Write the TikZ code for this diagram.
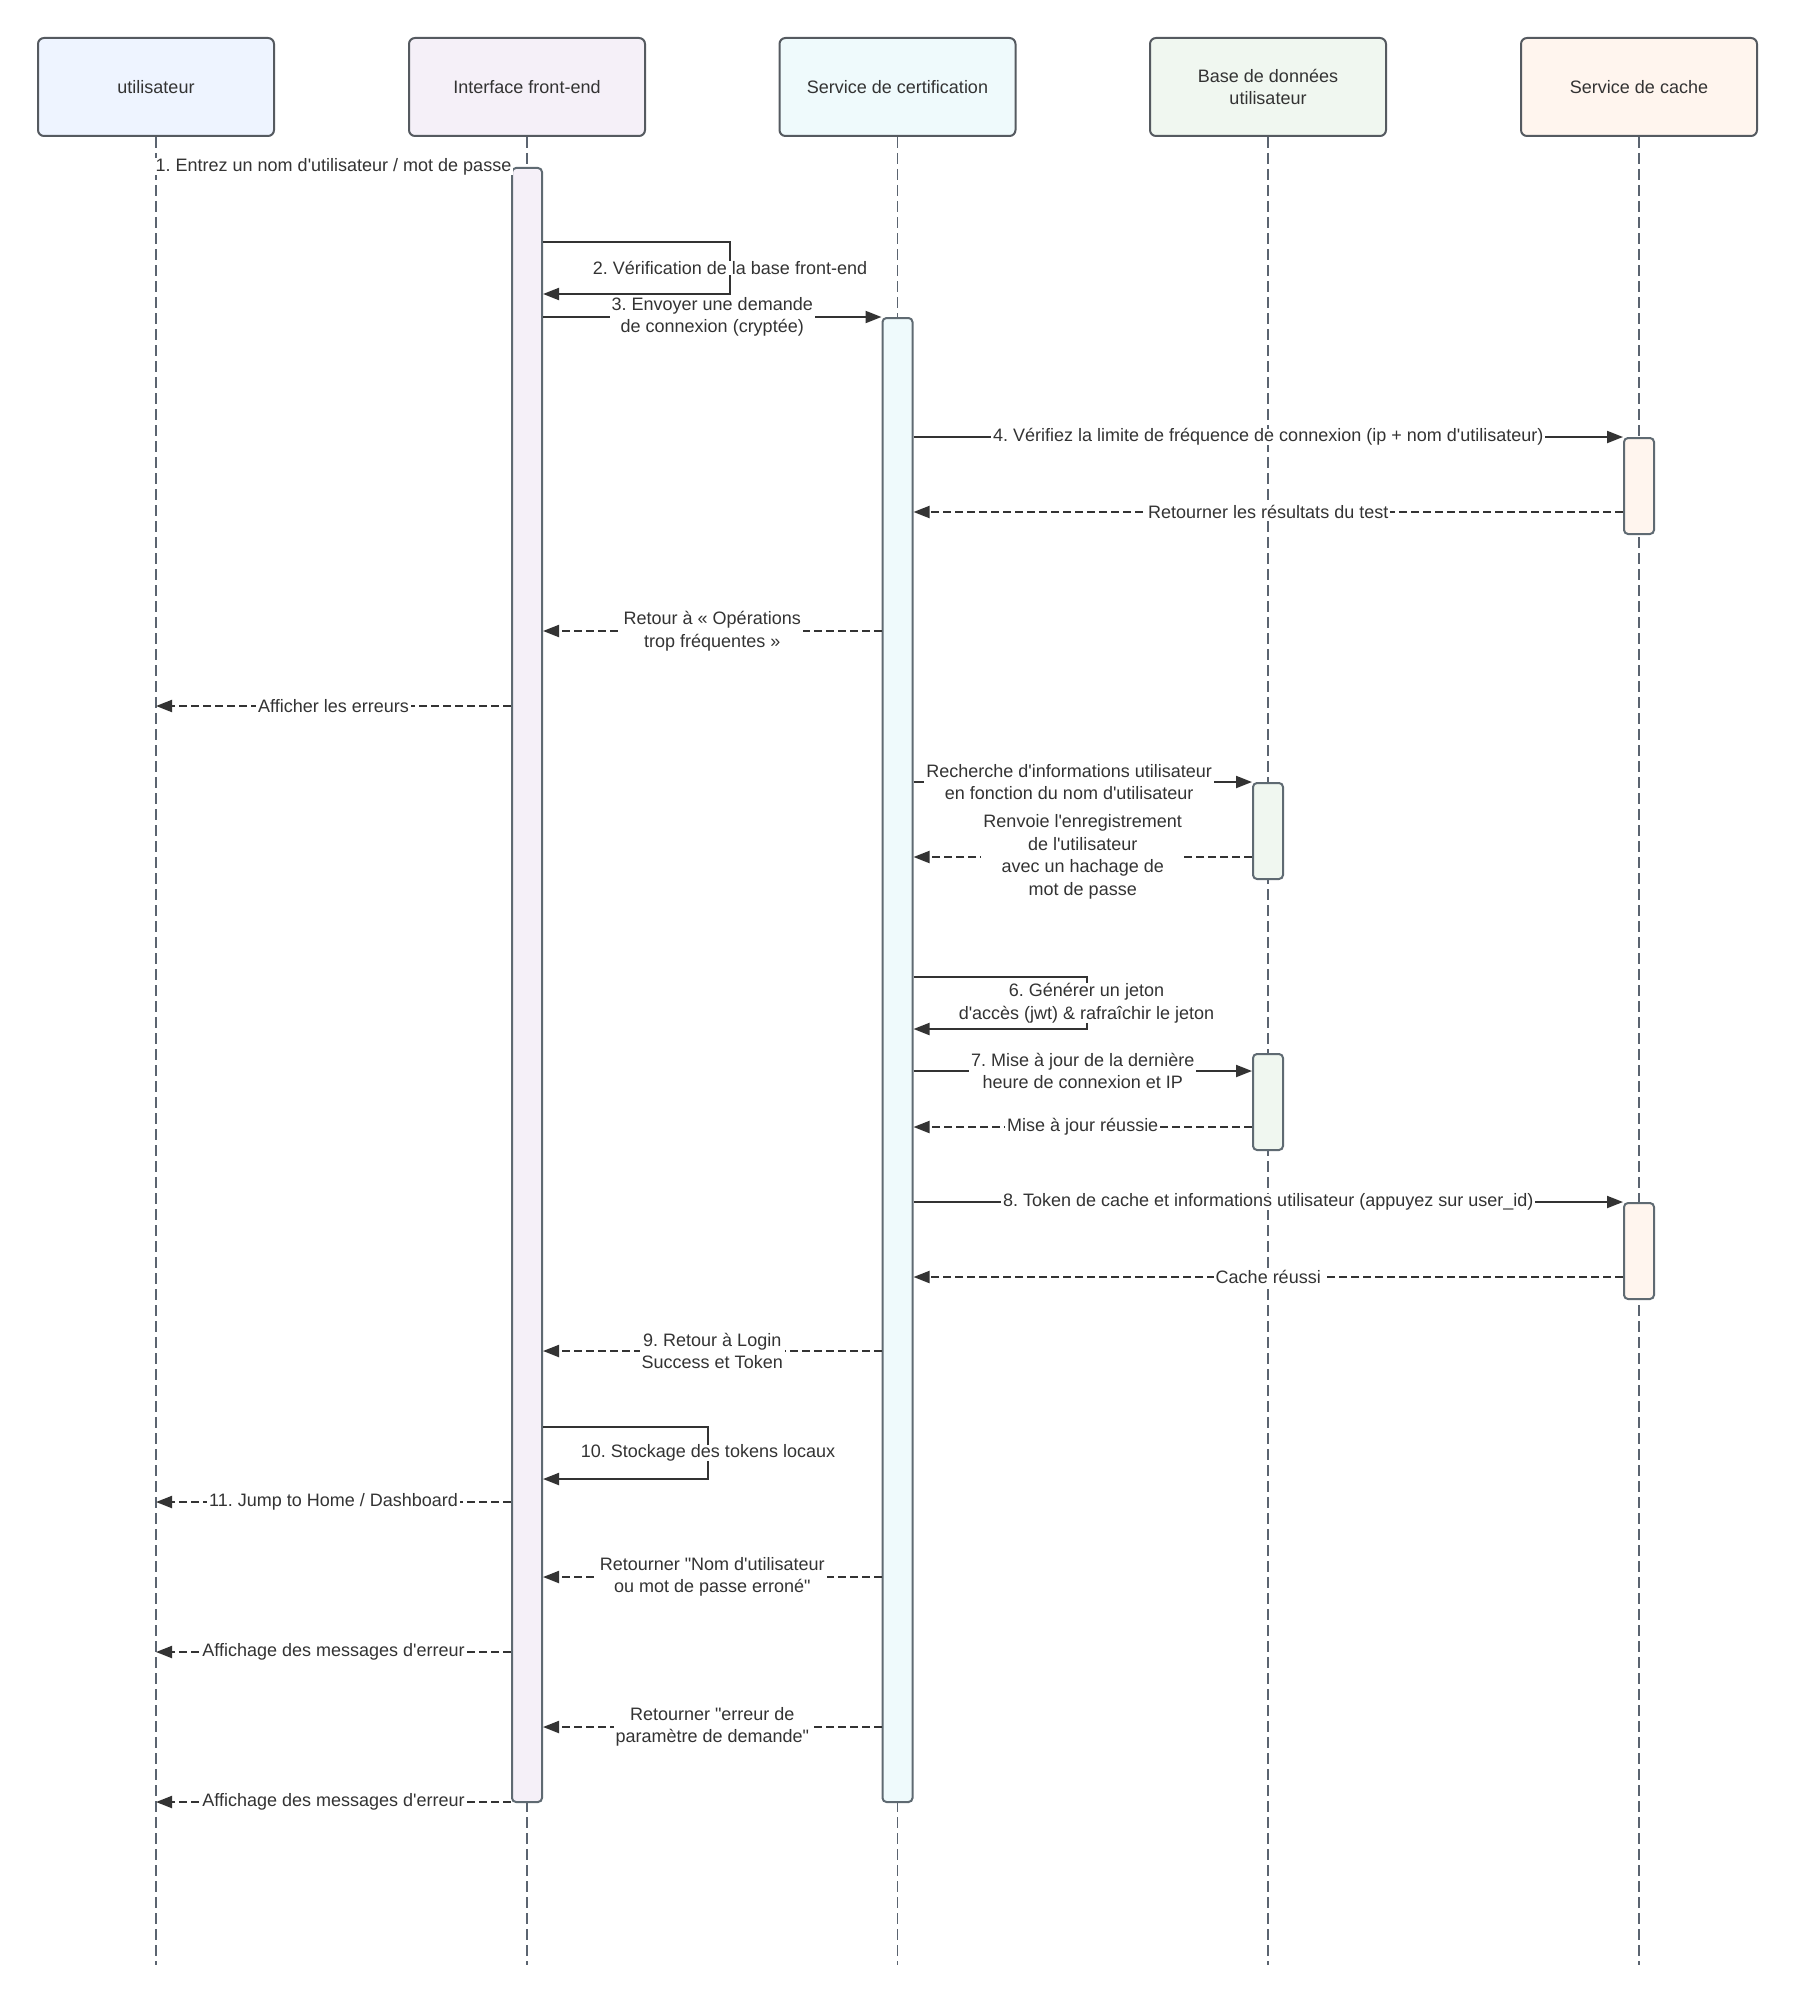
\documentclass[tikz,border=0pt]{standalone}
\usepackage{fontspec}
\setmainfont{Liberation Sans}[Ligatures=TeXOff]
\usetikzlibrary{arrows.meta}

\definecolor{txt}{HTML}{333333}
\definecolor{boxline}{HTML}{555A60}
\definecolor{barline}{HTML}{5F6A72}
\definecolor{lifeline}{HTML}{5B6470}
\definecolor{userfill}{HTML}{EEF4FF}
\definecolor{frontfill}{HTML}{F5F0F8}
\definecolor{authfill}{HTML}{EFFAFC}
\definecolor{dbfill}{HTML}{F0F7F0}
\definecolor{cachefill}{HTML}{FFF5EE}

\begin{document}
\frenchspacing
\begin{tikzpicture}[x=1pt, y=-1pt,
    actor/.style={draw=boxline, line width=2pt, rounded corners=6pt, minimum width=236pt, minimum height=98pt,
        text=txt, align=center, font=\fontsize{18}{21.7}\selectfont},
    life/.style={draw=lifeline, line width=1.3pt, dash pattern=on 11pt off 5pt},
    bar/.style={draw=barline, line width=2pt, rounded corners=4pt, minimum width=30pt, inner sep=0pt, anchor=north},
    msg/.style={draw=txt, line width=2pt, -{Triangle[length=16pt,width=12pt]}},
    ret/.style={msg, dash pattern=on 8pt off 4pt},
    lbl/.style={fill=white, text=txt, align=center, inner xsep=2pt, inner ysep=0pt, font=\fontsize{18}{22.5}\selectfont}]
    \useasboundingbox (0,0) rectangle (1795,2004);

    % acteurs
    \node[actor, fill=userfill] (user) at (156,87) {utilisateur};
    \node[actor, fill=frontfill] (front) at (527,87) {Interface front-end};
    \node[actor, fill=authfill] (auth) at (897.5,87) {Service de certification};
    \node[actor, fill=dbfill] (db) at (1268,87) {Base de données\\utilisateur};
    \node[actor, fill=cachefill] (cache) at (1639,87) {Service de cache};

    % lignes de vie
    \foreach \a in {user,front,auth,db,cache}
        \draw[life] (\a.south) -- (\a.south |- 0,1965);

    % activations
    \node[bar, fill=frontfill, minimum height=1634pt] (frontbar) at (front.south |- 0,167) {};
    \node[bar, fill=authfill, minimum height=1484pt] (authbar) at (auth.south |- 0,317) {};
    \node[bar, fill=cachefill, minimum height=96pt] (cachebarA) at (cache.south |- 0,437) {};
    \node[bar, fill=dbfill, minimum height=96pt] (dbbarA) at (db.south |- 0,782) {};
    \node[bar, fill=dbfill, minimum height=96pt] (dbbarB) at (db.south |- 0,1053) {};
    \node[bar, fill=cachefill, minimum height=96pt] (cachebarB) at (cache.south |- 0,1202) {};

    % connexion
    \draw[msg] (user.south |- 0,166) -- (frontbar.north west) node[lbl, midway] {1. Entrez un nom d'utilisateur / mot de passe};
    \draw[msg] (frontbar.east |- 0,242) -- ++(187,0) -- ++(0,52) node[lbl, midway] {2. Vérification de la base front-end} -- (frontbar.east |- 0,294);
    \draw[msg] (frontbar.east |- 0,317) -- (authbar.north west) node[lbl, midway] {3. Envoyer une demande\\de connexion (cryptée)};

    % limite de fréquence
    \draw[msg] (authbar.east |- 0,437) -- (cachebarA.north west) node[lbl, midway] {4. Vérifiez la limite de fréquence de connexion (ip + nom d'utilisateur)};
    \draw[ret] (cachebarA.west |- 0,512) -- (authbar.east |- 0,512) node[lbl, midway] {Retourner les résultats du test};
    \draw[ret] (authbar.west |- 0,631) -- (frontbar.east |- 0,631) node[lbl, midway] {Retour à « Opérations\\trop fréquentes »};
    \draw[ret] (frontbar.west |- 0,706) -- (user.south |- 0,706) node[lbl, midway] {Afficher les erreurs};

    % base de données
    \draw[msg] (authbar.east |- 0,782) -- (dbbarA.north west) node[lbl, pos=0.46] {Recherche d'informations utilisateur\\en fonction du nom d'utilisateur};
    \draw[ret] (dbbarA.west |- 0,857) -- (authbar.east |- 0,857) node[lbl, midway] {Renvoie l'enregistrement\\de l'utilisateur\\avec un hachage de\\mot de passe};

    % jetons
    \draw[msg] (authbar.east |- 0,977) -- ++(173,0) -- ++(0,52) node[lbl, midway] {6. Générer un jeton\\d'accès (jwt) \& rafraîchir le jeton} -- (authbar.east |- 0,1029);
    \draw[msg] (authbar.east |- 0,1071) -- (dbbarB.west |- 0,1071) node[lbl, midway] {7. Mise à jour de la dernière\\heure de connexion et IP};
    \draw[ret] (dbbarB.west |- 0,1127) -- (authbar.east |- 0,1127) node[lbl, midway] {Mise à jour réussie};
    \draw[msg] (authbar.east |- 0,1202) -- (cachebarB.north west) node[lbl, midway] {8. Token de cache et informations utilisateur (appuyez sur user\_id)};
    \draw[ret] (cachebarB.west |- 0,1277) -- (authbar.east |- 0,1277) node[lbl, midway] {Cache réussi};

    % succès
    \draw[ret] (authbar.west |- 0,1351) -- (frontbar.east |- 0,1351) node[lbl, midway] {9. Retour à Login\\Success et Token};
    \draw[msg] (frontbar.east |- 0,1427) -- ++(165,0) -- ++(0,52) node[lbl, midway] {10. Stockage des tokens locaux} -- (frontbar.east |- 0,1479);
    \draw[ret] (frontbar.west |- 0,1502) -- (user.south |- 0,1502) node[lbl, midway] {11. Jump to Home / Dashboard};

    % erreurs
    \draw[ret] (authbar.west |- 0,1577) -- (frontbar.east |- 0,1577) node[lbl, midway] {Retourner "Nom d'utilisateur\\ou mot de passe erroné"};
    \draw[ret] (frontbar.west |- 0,1652) -- (user.south |- 0,1652) node[lbl, midway] {Affichage des messages d'erreur};
    \draw[ret] (authbar.west |- 0,1727) -- (frontbar.east |- 0,1727) node[lbl, midway] {Retourner "erreur de\\paramètre de demande"};
    \draw[ret] (frontbar.west |- 0,1802) -- (user.south |- 0,1802) node[lbl, midway] {Affichage des messages d'erreur};
\end{tikzpicture}
\end{document}
